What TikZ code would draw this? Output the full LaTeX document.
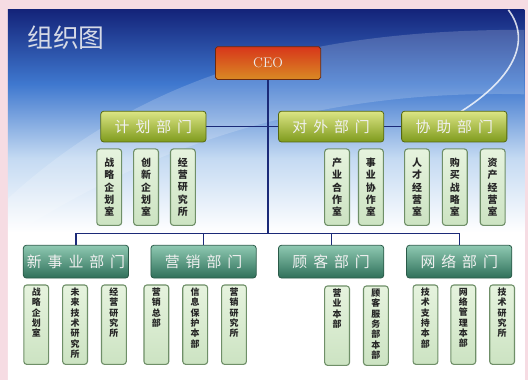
\documentclass[tikz,border=0pt]{standalone}
\usepackage{fontspec}
\newfontfamily\cjk{Noto Sans CJK SC}
\newfontfamily\cjkhead[LetterSpace=40]{Noto Sans CJK SC}
\usetikzlibrary{positioning}
\XeTeXlinebreaklocale "zh"
\XeTeXlinebreakskip=0pt plus 1pt

\definecolor{pinkbg}{HTML}{F6DCE3}
\definecolor{skydark}{HTML}{14247A}
\definecolor{skymid}{HTML}{3F78CF}
\definecolor{skylight}{HTML}{C4DAF2}
\definecolor{navy}{HTML}{1B2A78}
\definecolor{ceotop}{HTML}{D8361A}
\definecolor{ceobot}{HTML}{D98A24}
\definecolor{ceoedge}{HTML}{6A2A10}
\definecolor{headAtop}{HTML}{DCE585}
\definecolor{headAbot}{HTML}{7E9A1C}
\definecolor{headAedge}{HTML}{55680F}
\definecolor{headBtop}{HTML}{8FC9B2}
\definecolor{headBbot}{HTML}{2F705A}
\definecolor{headBedge}{HTML}{2A5A48}
\definecolor{celltop}{HTML}{E6F3DE}
\definecolor{cellbot}{HTML}{CCE3C2}
\definecolor{celledge}{HTML}{6F8F68}
\definecolor{celltext}{HTML}{262626}
\definecolor{titlegray}{HTML}{D6DAE6}

\pgfdeclareverticalshading{slidebg}{100bp}{color(0bp)=(white); color(25bp)=(white); color(45bp)=(white); color(55bp)=(skylight); color(65bp)=(skymid); color(75bp)=(skydark); color(100bp)=(skydark)}

\newcommand{\vmid}[1]{\parbox{1.05em}{\centering #1}}
\newcommand{\vhigh}[1]{\parbox[c][74pt][t]{1.05em}{\centering #1}}

\begin{document}
\begin{tikzpicture}
	[x=1pt, y=-1pt, node distance=11pt,
	 ceobox/.style={draw=ceoedge, line width=0.8pt, rounded corners=2pt, top color=ceotop, bottom color=ceobot, minimum width=106pt, minimum height=33pt, text=white!85!gray, font=\rmfamily\fontsize{14}{14}\selectfont},
	 headA/.style={draw=headAedge, line width=0.8pt, rounded corners=3pt, top color=headAtop, bottom color=headAbot, minimum width=106pt, minimum height=31pt, inner sep=0pt, text=white!88!gray, font=\cjkhead\fontsize{15}{15}\selectfont},
	 headB/.style={headA, draw=headBedge, top color=headBtop, bottom color=headBbot, minimum height=33pt},
	 cell/.style={draw=celledge, line width=1.1pt, rounded corners=3pt, top color=celltop, bottom color=cellbot, minimum width=25pt, minimum height=77pt, inner sep=0pt, text=celltext, font=\cjk\bfseries\fontsize{10}{12.5}\selectfont},
	 cellB/.style={cell, minimum height=80pt, font=\cjk\bfseries\fontsize{9}{10.4}\selectfont},
	 wire/.style={draw=navy, line width=1.2pt}]
   % slide background
   \fill[pinkbg] (0,0) rectangle (532,383);
   \shade[shading=slidebg] (8,10) rectangle (528,383);
   \fill[white, opacity=0.18] (8,200) .. controls (150,70) and (320,30) .. (528,30) -- (528,95) .. controls (330,90) and (160,140) .. (8,240) -- cycle;
   \draw[white, line width=1.6pt, opacity=0.8] (512,10) .. controls (535,40) and (520,80) .. (455,118);
   \node[anchor=west, text=titlegray, font=\cjk\fontsize{26}{26}\selectfont] (title) at (24,38) {组织图};
   % boxes
   \node[ceobox] (ceo) at (270,63.5) {CEO};
   \node[headA] (jihua)  at (154.5,127.5) {计划部门};
   \node[headA] (duiwai) at (333.5,127.5) {对外部门};
   \node[headA] (xiezhu) at (457.5,127.5) {协助部门};
   \node[headB] (xinshiye) at (76.5,263.5) {新事业部门};
   \node[headB] (yingxiao) at (205,263.5)  {营销部门};
   \node[headB] (guke)     at (333.5,263.5) {顾客部门};
   \node[headB] (wangluo)  at (462.5,263.5) {网络部门};
   % rooms, first row
   \node[cell] (zl1) at (110,188.5) {\vmid{战略企划室}};
   \node[cell] (cx1) [right=of zl1] {\vmid{创新企划室}};
   \node[cell] (jy1) [right=of cx1] {\vmid{经营研究所}};
   \node[cell] (cy)  at (339.5,188.5) {\vmid{产业合作室}};
   \node[cell] (sy)  [right=8pt of cy] {\vmid{事业协作室}};
   \node[cell] (rc)  at (420,188.5) {\vmid{人才经营室}};
   \node[cell] (gm)  [right=12pt of rc] {\vmid{购买战略室}};
   \node[cell] (zc)  [right=12pt of gm] {\vmid{资产经营室}};
   % rooms, second row
   \node[cellB] (zl2) at (36.5,327) {\vhigh{战略企划室}};
   \node[cellB] (wl)  [right=13pt of zl2] {\vhigh{未来技术研究所}};
   \node[cellB] (jy2) [right=13pt of wl] {\vhigh{经营研究所}};
   \node[cellB] (yxz) at (157.5,327) {\vhigh{营销总部}};
   \node[cellB] (xx)  [right=13pt of yxz] {\vhigh{信息保护本部}};
   \node[cellB] (yxy) [right=13pt of xx] {\vhigh{营销研究所}};
   \node[cellB] (yy)  at (339.5,328) {\vhigh{营业本部}};
   \node[cellB] (gkfw) [right=13pt of yy] {\vhigh{顾客服务部本部}};
   \node[cellB] (jszc) at (428.5,327) {\vhigh{技术支持本部}};
   \node[cellB] (wlgl) [right=12pt of jszc] {\vhigh{网络管理本部}};
   \node[cellB] (jsy)  [right=13pt of wlgl] {\vhigh{技术研究所}};
   % connectors
   \coordinate (bus) at (270,235);
   \path[wire]
    (ceo.south) -- (bus)
    (jihua) -- (duiwai)
    (duiwai) -- (xiezhu)
    (xinshiye.north) |- (bus) -| (wangluo.north)
    (yingxiao.north) -- (yingxiao.north |- bus)
    (guke.north) -- (guke.north |- bus);
\end{tikzpicture}
\end{document}
